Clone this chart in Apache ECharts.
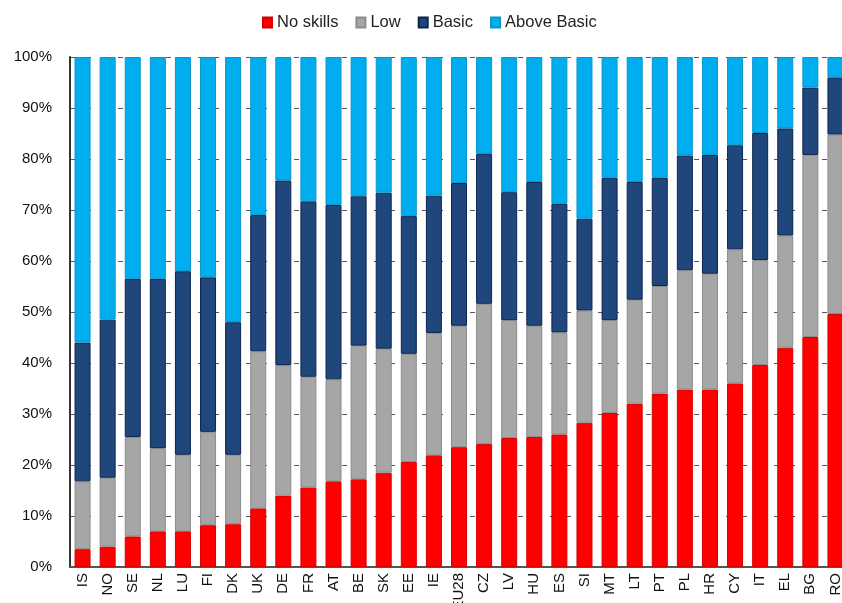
<!DOCTYPE html>
<html>
<head>
<meta charset="utf-8">
<script src="https://cdn.jsdelivr.net/npm/echarts@6/dist/echarts.min.js"></script>
<style>
  html, body { margin: 0; padding: 0; background: #fff; }
  #chart { width: 842px; height: 603px; }
</style>
</head>
<body>
<div id="chart"></div>
<script>
const countries = ['IS', 'NO', 'SE', 'NL', 'LU', 'FI', 'DK', 'UK', 'DE', 'FR', 'AT', 'BE', 'SK', 'EE', 'IE', 'EU28',
  'CZ', 'LV', 'HU', 'ES', 'SI', 'MT', 'LT', 'PT', 'PL', 'HR', 'CY', 'IT', 'EL', 'BG', 'RO'];

// cumulative tops (%)
const noSkillsTop = [3.5, 4, 6, 7, 7, 8.2, 8.4, 11.5, 14, 15.6, 16.8, 17.2, 18.5, 20.6, 21.9, 23.5,
  24.1, 25.3, 25.5, 26, 28.3, 30.2, 32, 34, 34.8, 34.8, 36, 39.6, 43, 45.1, 49.6];
const lowTop = [16.8, 17.5, 25.5, 23.3, 22, 26.5, 22, 42.3, 39.6, 37.3, 36.8, 43.4, 42.8, 41.8, 45.9, 47.3,
  51.6, 48.4, 47.3, 46, 50.3, 48.4, 52.4, 55.1, 58.2, 57.5, 62.3, 60.2, 65, 80.8, 84.8];
const basicTop = [44, 48.5, 56.5, 56.5, 58, 56.8, 48, 69, 75.8, 71.7, 71, 72.7, 73.4, 68.8, 72.8, 75.3,
  81, 73.5, 75.5, 71.2, 68.3, 76.3, 75.5, 76.3, 80.7, 80.8, 82.7, 85.1, 86, 94, 96];

const yTicks = [0, 10, 20, 30, 40, 50, 60, 70, 80, 90, 100];

const round1 = v => Math.round(v * 10) / 10;
const noSkills = noSkillsTop;
const low = lowTop.map((v, i) => round1(v - noSkillsTop[i]));
const basic = basicTop.map((v, i) => round1(v - lowTop[i]));
const aboveBasic = basicTop.map(v => round1(100 - v));

const font = "'Liberation Sans', Arial, sans-serif";

const chart = echarts.init(document.getElementById('chart'));

const bar = (name, data, color, edge) => ({
  name: name,
  type: 'bar',
  stack: 'total',
  data: data,
  barWidth: 16,
  itemStyle: { color: color, borderColor: edge, borderWidth: 1 },
  emphasis: { disabled: true }
});

chart.setOption({
  animation: false,
  legend: {
    top: 9,
    left: 257,
    icon: 'rect',
    itemWidth: 9,
    itemHeight: 10,
    itemGap: 17,
    textStyle: { fontFamily: font, fontSize: 16.5, color: '#222' },
    data: ['No skills', 'Low', 'Basic', 'Above Basic']
  },
  grid: {
    left: 70,
    top: 57,
    width: 778,
    height: 510,
    outerBoundsMode: 'none'
  },
  xAxis: {
    type: 'category',
    data: countries,
    axisLine: { lineStyle: { color: '#555', width: 2 } },
    axisTick: { show: false },
    axisLabel: {
      rotate: 90,
      interval: 0,
      margin: 6,
      fontFamily: font,
      fontSize: 15,
      color: '#111'
    }
  },
  yAxis: {
    type: 'value',
    min: 0,
    max: 100,
    interval: 10,
    axisLine: { show: true, lineStyle: { color: '#333', width: 2 } },
    axisTick: { show: false },
    axisLabel: {
      margin: 18,
      fontFamily: font,
      fontSize: 15,
      color: '#111',
      formatter: v => (yTicks.includes(v) ? v + '%' : '')
    },
    splitLine: { lineStyle: { color: '#555', type: [5, 11], width: 1 } }
  },
  series: [
    bar('No skills', noSkills, '#FF0000', '#d40000'),
    bar('Low', low, '#A6A6A6', '#8c8c8c'),
    bar('Basic', basic, '#1F477B', '#0c2550'),
    bar('Above Basic', aboveBasic, '#00AEEF', '#0a95cc')
  ]
});
</script>
</body>
</html>
